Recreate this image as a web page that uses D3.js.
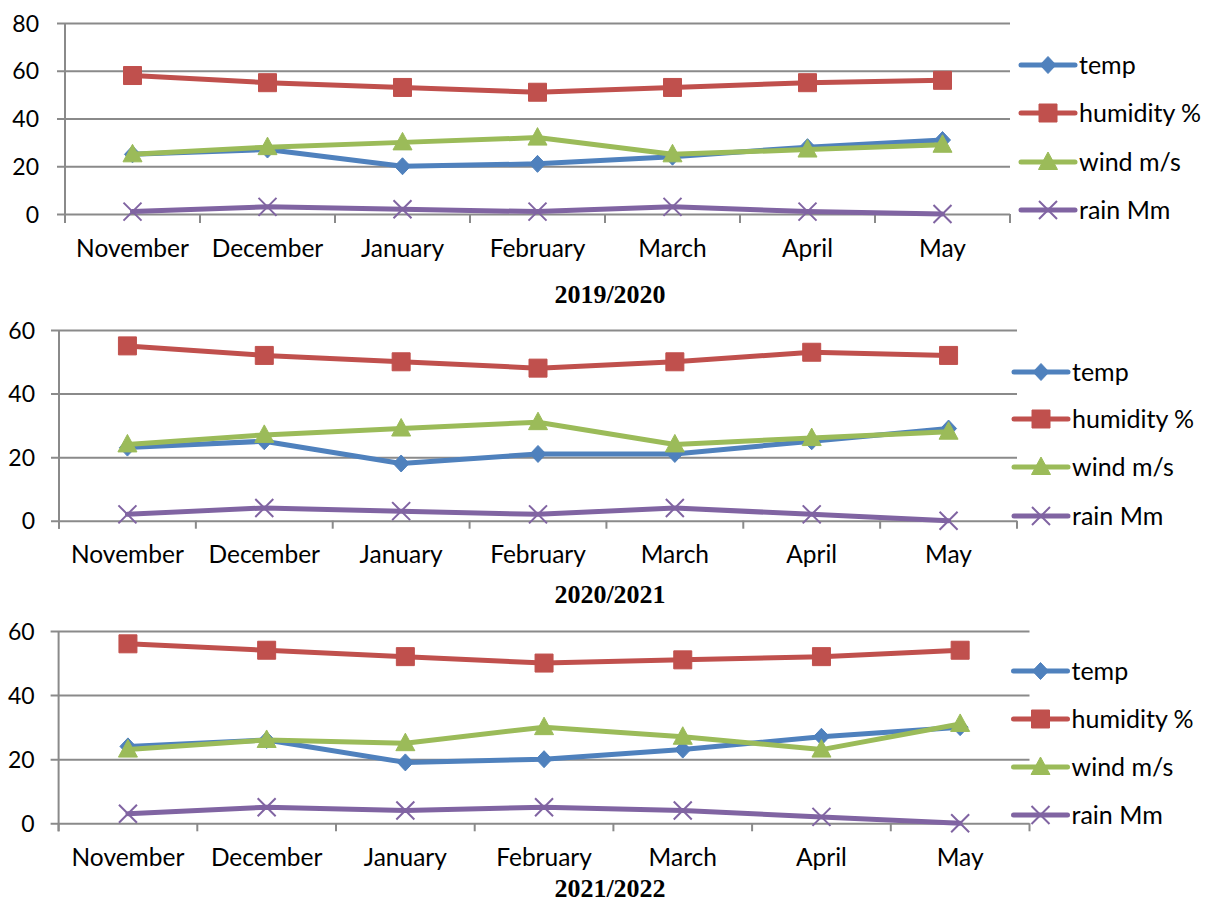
<!DOCTYPE html>
<html>
<head>
<meta charset="utf-8">
<script src="https://cdn.jsdelivr.net/npm/d3@7"></script>
<style>
  html, body { margin: 0; padding: 0; background: #fff; }
  svg { display: block; }
</style>
</head>
<body>
<script>
// Monthly weather readings for three seasons
const months = ["November", "December", "January", "February", "March", "April", "May"];
const seriesNames = ["temp", "humidity %", "wind m/s", "rain Mm"];
const seasonTitles = ["2019/2020", "2020/2021", "2021/2022"];

const temp1920     = [25, 27, 20, 21, 24, 28, 31];
const humidity1920 = [58, 55, 53, 51, 53, 55, 56];
const wind1920     = [25, 28, 30, 32, 25, 27, 29];
const rain1920     = [1, 3, 2, 1, 3, 1, 0];

const temp2021     = [23, 25, 18, 21, 21, 25, 29];
const humidity2021 = [55, 52, 50, 48, 50, 53, 52];
const wind2021     = [24, 27, 29, 31, 24, 26, 28];
const rain2021     = [2, 4, 3, 2, 4, 2, 0];

const temp2122     = [24, 26, 19, 20, 23, 27, 30];
const humidity2122 = [56, 54, 52, 50, 51, 52, 54];
const wind2122     = [23, 26, 25, 30, 27, 23, 31];
const rain2122     = [3, 5, 4, 5, 4, 2, 0];

const yTicksTall  = [0, 20, 40, 60, 80];
const yTicksShort = [0, 20, 40, 60];

const colors  = ["#4F81BD", "#C0504D", "#9BBB59", "#8064A2"];
const markers = ["diamond", "square", "triangle", "cross"];

const W = 1207, H = 903;
const sans = "Lato, 'Open Sans', sans-serif";
const serif = "'Liberation Serif', 'DejaVu Serif', serif";
const gridColor = "#8a8a8a";

const svg = d3.select("body").append("svg")
  .attr("width", W).attr("height", H)
  .attr("viewBox", `0 0 ${W} ${H}`);

// Layout of each of the three stacked panels
const panels = [
  { left: 65, right: 1010, top: 23, bottom: 214, ymax: 80, ticks: yTicksTall,
    labelPad: 18, xLabelBase: 257, titleBase: 303, tickLen: 9,
    legendY: [65, 113, 162, 210], legendX: 1021,
    data: [temp1920, humidity1920, wind1920, rain1920], title: seasonTitles[0] },
  { left: 59, right: 1017, top: 330, bottom: 520.7, ymax: 60, ticks: yTicksShort,
    labelPad: 16, xLabelBase: 563, titleBase: 603, tickLen: 8,
    legendY: [372, 419, 467, 516], legendX: 1014,
    data: [temp2021, humidity2021, wind2021, rain2021], title: seasonTitles[1] },
  { left: 58.6, right: 1029.5, top: 631, bottom: 823.3, ymax: 60, ticks: yTicksShort,
    labelPad: 16, xLabelBase: 866, titleBase: 897, tickLen: 8,
    legendY: [671, 719, 767, 815], legendX: 1013.5,
    data: [temp2122, humidity2122, wind2122, rain2122], title: seasonTitles[2] }
];

function markerPath(kind) {
  switch (kind) {
    case "diamond":  return "M0,-8.5L8,0L0,8.5L-8,0Z";
    case "square":   return "M-9,-9H9V9H-9Z";
    case "triangle": return "M0,-10L9.5,7.5H-9.5Z";
    case "cross":    return "M-9,-9L9,9M-9,9L9,-9";
  }
}

function drawMarker(g, kind, color, cx, cy) {
  const p = g.append("path")
    .attr("transform", `translate(${cx},${cy})`)
    .attr("d", markerPath(kind));
  if (kind === "cross") {
    p.attr("fill", "none").attr("stroke", color).attr("stroke-width", 2);
  } else {
    p.attr("fill", color).attr("stroke", color).attr("stroke-width", 1);
  }
}

panels.forEach(cfg => {
  const g = svg.append("g");
  const x = d3.scaleBand().domain(months).range([cfg.left, cfg.right]).padding(0);
  const y = d3.scaleLinear().domain([0, cfg.ymax]).range([cfg.bottom, cfg.top]);
  const cx = m => x(m) + x.bandwidth() / 2;

  // Horizontal gridlines with left stubs and value labels
  const yAxis = d3.axisLeft(y)
    .tickValues(cfg.ticks)
    .tickSize(cfg.right - cfg.left + 8)
    .tickPadding(cfg.labelPad)
    .tickFormat(d3.format("d"));
  const ya = g.append("g")
    .attr("transform", `translate(${cfg.right},0)`)
    .call(yAxis);
  ya.select(".domain").remove();
  ya.selectAll(".tick line").attr("stroke", gridColor).attr("stroke-width", 2);
  ya.selectAll(".tick text")
    .attr("font-family", sans).attr("font-size", 23).attr("fill", "#000")
    .attr("dy", "0.35em");

  // Vertical axis line
  g.append("line")
    .attr("x1", cfg.left).attr("x2", cfg.left)
    .attr("y1", y(cfg.ymax)).attr("y2", cfg.bottom + cfg.tickLen)
    .attr("stroke", gridColor).attr("stroke-width", 2);

  // Category boundary ticks
  const bounds = months.map(m => x(m)).concat([x.range()[1]]);
  g.selectAll("line.xtick").data(bounds).join("line")
    .attr("class", "xtick")
    .attr("x1", d => d).attr("x2", d => d)
    .attr("y1", cfg.bottom).attr("y2", cfg.bottom + cfg.tickLen)
    .attr("stroke", gridColor).attr("stroke-width", 2);

  // Month labels
  g.selectAll("text.month").data(months).join("text")
    .attr("class", "month")
    .attr("x", d => cx(d)).attr("y", cfg.xLabelBase)
    .attr("text-anchor", "middle")
    .attr("font-family", sans).attr("font-size", 24.5).attr("fill", "#000")
    .text(d => d);

  // Series lines and markers
  const line = d3.line().x((d, i) => cx(months[i])).y(d => y(d));
  cfg.data.forEach((vals, s) => {
    g.append("path")
      .attr("d", line(vals))
      .attr("fill", "none")
      .attr("stroke", colors[s])
      .attr("stroke-width", 5)
      .attr("stroke-linejoin", "round")
      .attr("stroke-linecap", "round");
    vals.forEach((v, i) => drawMarker(g, markers[s], colors[s], cx(months[i]), y(v)));
  });

  // Legend
  seriesNames.forEach((name, s) => {
    const ly = cfg.legendY[s];
    const lx = cfg.legendX;
    g.append("line")
      .attr("x1", lx).attr("x2", lx + 54)
      .attr("y1", ly).attr("y2", ly)
      .attr("stroke", colors[s]).attr("stroke-width", 5)
      .attr("stroke-linecap", "round");
    drawMarker(g, markers[s], colors[s], lx + 27, ly);
    g.append("text")
      .attr("x", lx + 58).attr("y", ly)
      .attr("dy", "0.35em")
      .attr("font-family", sans).attr("font-size", 25).attr("fill", "#000")
      .text(name);
  });

  // Season title
  g.append("text")
    .attr("x", 610).attr("y", cfg.titleBase)
    .attr("text-anchor", "middle")
    .attr("font-family", serif).attr("font-weight", "bold")
    .attr("font-size", 26).attr("fill", "#000")
    .text(cfg.title);
});
</script>
</body>
</html>
